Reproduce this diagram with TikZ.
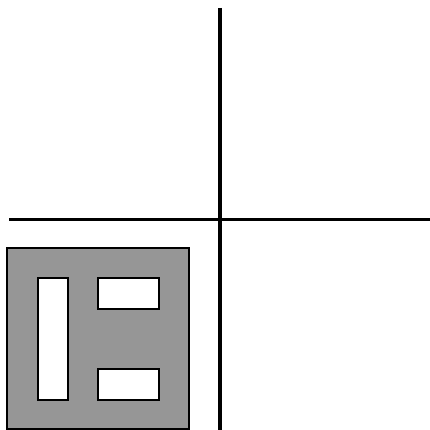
\documentclass[tikz,border=0pt]{standalone}
\definecolor{panelgray}{RGB}{150,150,150}
\begin{document}
\begin{tikzpicture}[x=1pt,y=-1pt,
  axisline/.style={line width=3.6pt,black},
  panel/.style={draw=black,fill=panelgray,line width=1.5pt},
  hole/.style={draw=black,fill=white,line width=2pt}]
\useasboundingbox (0,0) rectangle (430,430);
\draw[axisline] (220,8) -- (220,430);
\draw[axisline] (9,219.5) -- (430,219.5);
\draw[panel] (7,248) rectangle (189,429);
\draw[hole] (37.5,278) rectangle (68,399.5);
\draw[hole] (97.5,278) rectangle (158.5,309);
\draw[hole] (97.5,369) rectangle (158.5,399.5);
\end{tikzpicture}
\end{document}
